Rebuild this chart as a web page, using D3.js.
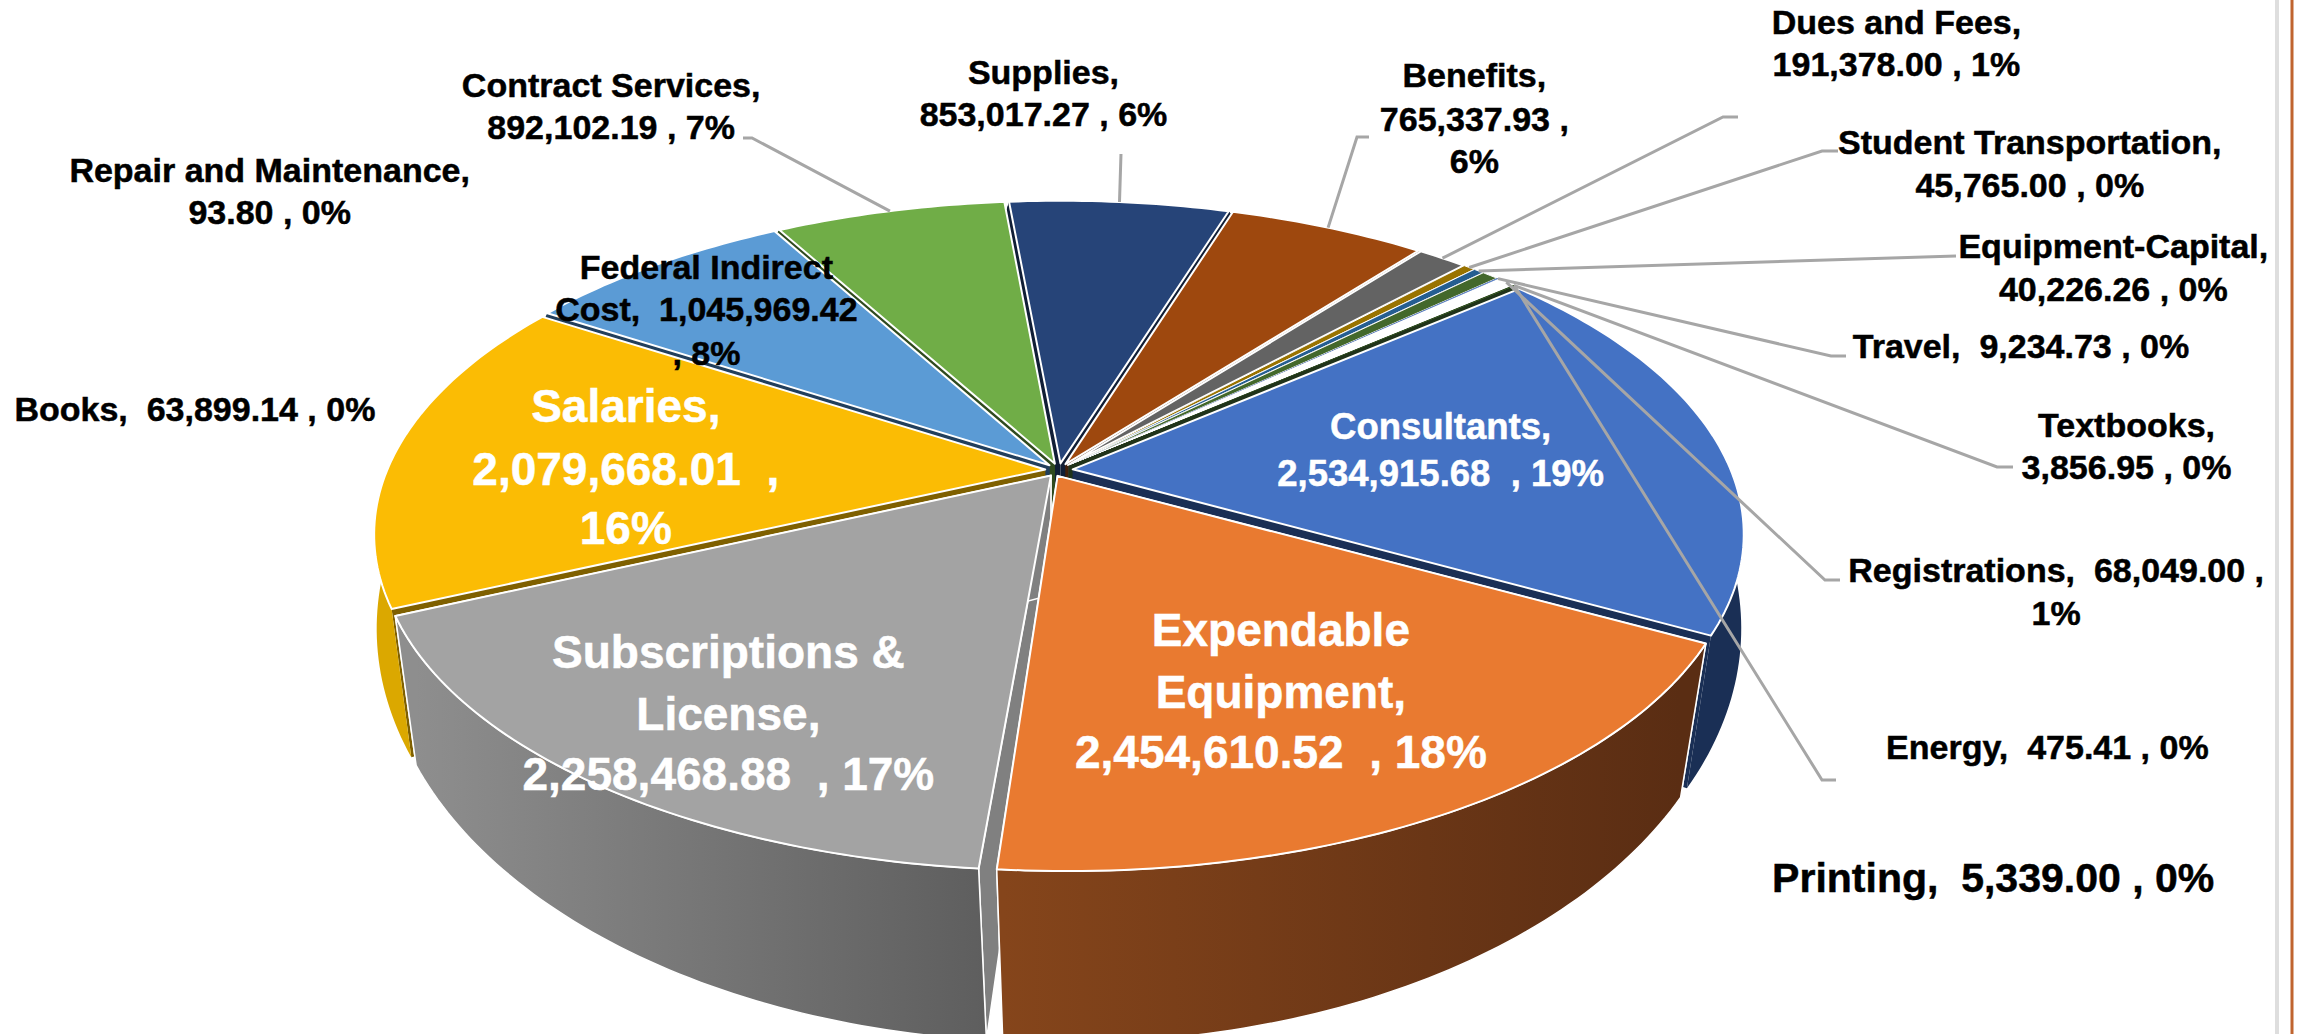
<!DOCTYPE html>
<html><head><meta charset="utf-8">
<script src="https://cdn.jsdelivr.net/npm/d3@7"></script>
<style>html,body{margin:0;background:#fff}svg{display:block}text{font-family:"Liberation Sans",Arial,sans-serif;font-weight:700}</style>
</head><body><svg id="c" width="2298" height="1034"></svg>
<script>
// ---- data (clockwise, from the Consultants slice)
const categories = ["Consultants","Expendable Equipment","Subscriptions & License","Salaries","Federal Indirect Cost","Contract Services","Supplies","Benefits","Dues and Fees","Student Transportation","Equipment-Capital","Books","Travel","Registrations","Textbooks","Energy","Printing","Repair and Maintenance"];
const values = [2534915.68,2454610.52,2258468.88,2079668.01,1045969.42,892102.19,853017.27,765337.93,191378.00,45765.00,40226.26,63899.14,9234.73,68049.00,3856.95,475.41,5339.00,93.80];
const topColors = ["#4472C4","#E97A30","#A3A3A3","#FBBC04","#5B9BD5","#70AD47","#264478","#9E480E","#636363","#997300","#255E91","#43682B","#698ED0","#FFFFFF","#43682B","#43682B","#43682B","#43682B"];
const wallLeft  = ["#1A2F55","#85451B","#8E8E8E","#DBA800","#223F5C","#2F4A1E","#101E36","#43200A","#333333","#4A3800","#12304A","#20331A","#33456A","#FFFFFF","#20331A","#20331A","#20331A","#20331A"];
const wallRight = ["#1A2F55","#5A2D13","#5E5E5E","#DBA800","#223F5C","#2F4A1E","#101E36","#43200A","#333333","#4A3800","#12304A","#20331A","#33456A","#FFFFFF","#20331A","#20331A","#20331A","#20331A"];
const radialColors = ["#1A2F55","#5A2D13","#808080","#7F6000","#223F5C","#2F4A1E","#101E36","#43200A","#333333","#4A3800","#12304A","#20331A","#33456A","#FFFFFF","#20331A","#20331A","#20331A","#20331A"];

// ---- label text, layout given in the 1568-wide reference frame
const S = 2298/1568;
const labels = [
 {lines:["Consultants,","2,534,915.68  , 19%"],cx:983,ys:[291,323],size:36.5,fill:"#fff"},
 {lines:["Expendable","Equipment,","2,454,610.52  , 18%"],cx:874,ys:[430,472,513],size:46,fill:"#fff"},
 {lines:["Subscriptions &","License,","2,258,468.88  , 17%"],cx:497,ys:[445,487,528],size:46,fill:"#fff"},
 {lines:["Salaries,","2,079,668.01  ,","16%"],cx:427,ys:[277,320,360],size:46,fill:"#fff"},
 {lines:["Federal Indirect","Cost,  1,045,969.42",", 8%"],cx:482,ys:[182,211,241],size:34,fill:"#000"},
 {lines:["Contract Services,","892,102.19 , 7%"],cx:417,ys:[58,87],size:34,fill:"#000"},
 {lines:["Supplies,","853,017.27 , 6%"],cx:712,ys:[49,78],size:34,fill:"#000"},
 {lines:["Benefits,","765,337.93 ,","6%"],cx:1006,ys:[51,81,110],size:34,fill:"#000"},
 {lines:["Dues and Fees,","191,378.00 , 1%"],cx:1294,ys:[15,44],size:34,fill:"#000"},
 {lines:["Student Transportation,","45,765.00 , 0%"],cx:1385,ys:[97,126],size:34,fill:"#000"},
 {lines:["Equipment-Capital,","40,226.26 , 0%"],cx:1442,ys:[168,197],size:34,fill:"#000"},
 {lines:["Travel,  9,234.73 , 0%"],cx:1379,ys:[236],size:34,fill:"#000"},
 {lines:["Textbooks,","3,856.95 , 0%"],cx:1451,ys:[290,319],size:34,fill:"#000"},
 {lines:["Registrations,  68,049.00 ,","1%"],cx:1403,ys:[389,418],size:34,fill:"#000"},
 {lines:["Energy,  475.41 , 0%"],cx:1397,ys:[510],size:34,fill:"#000"},
 {lines:["Printing,  5,339.00 , 0%"],cx:1360,ys:[599],size:41,fill:"#000"},
 {lines:["Books,  63,899.14 , 0%"],cx:133,ys:[279],size:34,fill:"#000"},
 {lines:["Repair and Maintenance,","93.80 , 0%"],cx:184,ys:[116,145],size:34,fill:"#000"}
];
// leader: slice name -> elbow and end in full pixels
const leaders = [
 {name:"Contract Services",pts:[[752,138],[743,138]]},
 {name:"Supplies",pts:[[1121,154]]},
 {name:"Benefits",pts:[[1357,137],[1369,137]]},
 {name:"Dues and Fees",pts:[[1723,117],[1738,117]]},
 {name:"Student Transportation",pts:[[1822,151],[1838,151]]},
 {name:"Equipment-Capital",pts:[[1956,256]]},
 {name:"Travel",pts:[[1831,356],[1846,356]]},
 {name:"Textbooks",pts:[[1997,467],[2013,467]]},
 {name:"Registrations",pts:[[1825,580],[1840,580]]},
 {name:"Energy",pts:[[1822,780],[1836,780]]}
];

// ---- projection of the tilted pie (perspective on two parallel planes)
const P = {cx:1059,e:0.021,
  top:{cy:470,rx:658,ry:316,k:0.194},bot:{cy:588,rx:665,ry:401,k:0.1}};
const project=(x,y,pl)=>{const w=1-pl.k*y;return [P.cx+pl.rx*x/w,pl.cy+pl.ry*y/w];};
const apexNudge = {"Expendable Equipment":-8};

const startDeg = 50.0;
const pie = d3.pie().sort(null).value(d=>d).startAngle(startDeg*Math.PI/180).endAngle((startDeg+360)*Math.PI/180);
const arcs = pie(values).map((a,i)=>{
  const bis=(a.startAngle+a.endAngle)/2;
  const ox=P.e*Math.sin(bis), oy=-P.e*Math.cos(bis);
  const n=Math.max(2,Math.ceil((a.endAngle-a.startAngle)*180/Math.PI));
  const angs=d3.range(n+1).map(j=>a.startAngle+(a.endAngle-a.startAngle)*j/n);
  const rim=pl=>angs.map(t=>project(ox+Math.sin(t),oy-Math.cos(t),pl));
  const nudge=apexNudge[categories[i]]||0;
  const apex=pl=>{const p=project(ox,oy,pl);return [p[0]+nudge,p[1]];};
  return {i,name:categories[i],bis,ox,oy,sweep:a.endAngle-a.startAngle,
    rimT:rim(P.top),rimB:rim(P.bot),apexT:apex(P.top),apexB:apex(P.bot),
    mid:project(ox+Math.sin(bis),oy-Math.cos(bis),P.top)};
});

const svg=d3.select("#c");
const defs=svg.append("defs");
const line=d3.line();
const closed=p=>line(p)+"Z";

const order=arcs.slice().sort((a,b)=>(-Math.cos(a.bis))-(-Math.cos(b.bis)));
const gSlices=svg.append("g");
order.forEach(s=>{
  const g=gSlices.append("g").attr("data-name",s.name);
  const deg=s.sweep*180/Math.PI;
  const front=-Math.cos(s.bis)>0.3;
  const sw=deg>3?2:(deg>0.6?1:0);
  const xs=s.rimB.map(p=>p[0]);
  const gid="wall"+s.i;
  const grad=defs.append("linearGradient").attr("id",gid).attr("gradientUnits","userSpaceOnUse")
    .attr("x1",d3.min(xs)).attr("x2",d3.max(xs)).attr("y1",0).attr("y2",0);
  grad.append("stop").attr("offset",0).attr("stop-color",wallLeft[s.i]);
  grad.append("stop").attr("offset",1).attr("stop-color",wallRight[s.i]);
  const last=s.rimT.length-1;
  [0,last].forEach(j=>{
    g.append("path").attr("d",closed([s.apexT,s.rimT[j],s.rimB[j],s.apexB]))
     .attr("fill",radialColors[s.i]).attr("stroke","#fff").attr("stroke-width",front?1.5:0);
  });
  g.append("path").attr("d",closed(s.rimT.concat(s.rimB.slice().reverse())))
   .attr("fill",`url(#${gid})`).attr("stroke","#fff").attr("stroke-width",front?1.5:0);
  g.append("path").attr("d",closed([s.apexT].concat(s.rimT)))
   .attr("fill",topColors[s.i]).attr("stroke","#fff").attr("stroke-width",sw).attr("stroke-linejoin","round");
});

// leaders
const gLead=svg.append("g").attr("fill","none").attr("stroke","#A6A6A6").attr("stroke-width",3);
leaders.forEach(l=>{
  const s=arcs.find(a=>a.name===l.name);
  gLead.append("path").attr("d",line([s.mid].concat(l.pts)));
});

// labels
const gText=svg.append("g").attr("text-anchor","middle");
labels.forEach(l=>{
  const t=gText.append("text").attr("fill",l.fill).attr("stroke",l.fill).attr("stroke-width",0.5).attr("font-size",l.size);
  l.lines.forEach((txt,j)=>{
    t.append("tspan").attr("x",l.cx*S).attr("y",l.ys[j]*S).attr("dy",".35em").style("white-space","pre").text(txt);
  });
});

// page frame lines at right
svg.append("line").attr("x1",2277).attr("x2",2277).attr("y1",0).attr("y2",1034).attr("stroke","#DEDEDE").attr("stroke-width",4);
svg.append("line").attr("x1",2292).attr("x2",2292).attr("y1",0).attr("y2",1034).attr("stroke","#C0642F").attr("stroke-width",3);
</script></body></html>
